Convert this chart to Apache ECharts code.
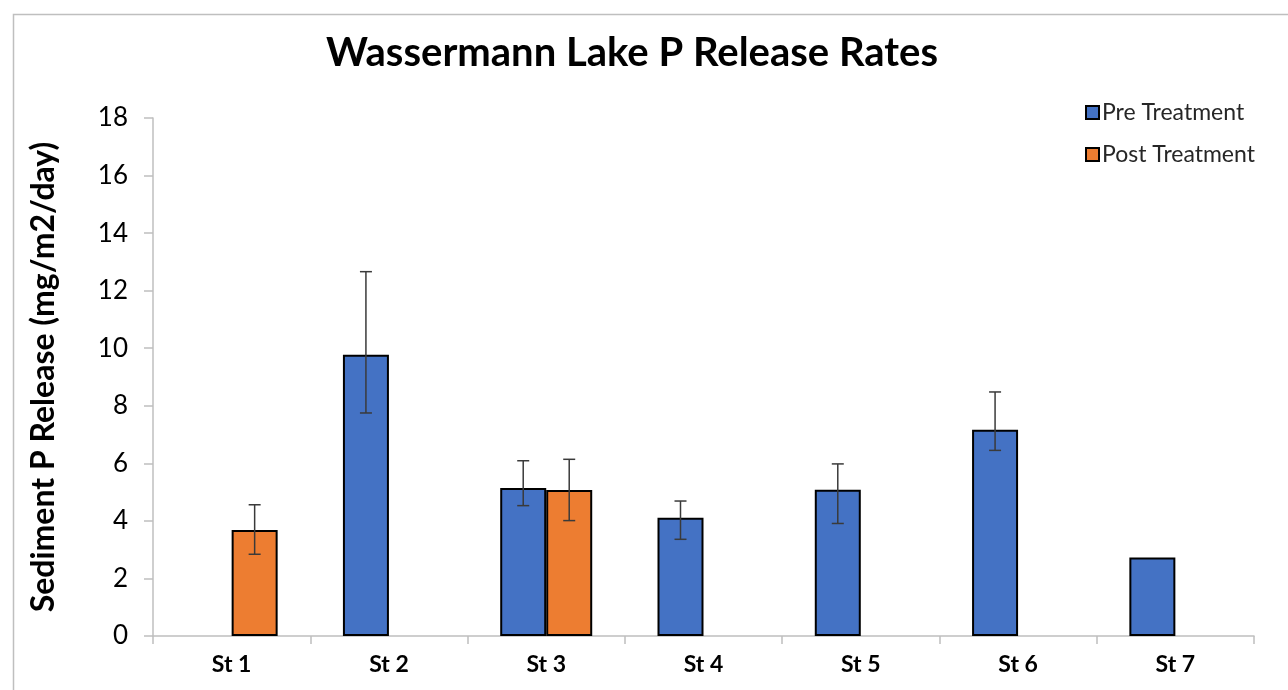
<!DOCTYPE html>
<html>
<head>
<meta charset="utf-8">
<script src="https://cdn.jsdelivr.net/npm/echarts@6/dist/echarts.min.js"></script>
<style>
html,body{margin:0;padding:0;background:#fff;}
#main{width:1288px;height:690px;}
</style>
</head>
<body>
<div id="main"></div>
<script>
var categories = ['St 1', 'St 2', 'St 3', 'St 4', 'St 5', 'St 6', 'St 7'];
var preValues  = [null, 9.77, 5.14, 4.11, 5.08, 7.17, 2.73];
var preHigh    = [null, 12.66, 6.09, 4.69, 5.98, 8.48, null];
var preLow     = [null, 7.75, 4.53, 3.36, 3.91, 6.45, null];
var postValues = [3.68, null, 5.07, null, null, null, null];
var postHigh   = [4.56, null, 6.14, null, null, null, null];
var postLow    = [2.84, null, 4.01, null, null, null, null];
var yTicks = [0, 2, 4, 6, 8, 10, 12, 14, 16, 18];

var FONT = 'Lato, "Open Sans", sans-serif';
var BAR_W = 46;

function errData(high, low) {
  var out = [];
  for (var i = 0; i < categories.length; i++) {
    if (high[i] != null && low[i] != null) out.push([i, low[i], high[i]]);
  }
  return out;
}

function errRender(offset) {
  return function (params, api) {
    var i = api.value(0);
    var lo = api.coord([i, api.value(1)]);
    var hi = api.coord([i, api.value(2)]);
    var x = lo[0] + offset;
    var cap = 6;
    var style = { stroke: '#3a3a3a', lineWidth: 1.5 };
    return {
      type: 'group',
      children: [
        { type: 'line', shape: { x1: x, y1: hi[1], x2: x, y2: lo[1] }, style: style },
        { type: 'line', shape: { x1: x - cap, y1: hi[1], x2: x + cap, y2: hi[1] }, style: style },
        { type: 'line', shape: { x1: x - cap, y1: lo[1], x2: x + cap, y2: lo[1] }, style: style }
      ]
    };
  };
}

var chart = echarts.init(document.getElementById('main'), null, { renderer: 'canvas' });
chart.setOption({
  animation: false,
  backgroundColor: '#ffffff',
  graphic: [{
    type: 'rect', left: 11, top: 12, z: -10,
    shape: { width: 1300, height: 700 },
    style: { fill: 'none', stroke: '#bfbfbf', lineWidth: 1.5 }
  }],
  title: {
    text: 'Wassermann Lake P Release Rates',
    left: 627, top: 28, textAlign: 'center',
    textStyle: { fontFamily: FONT, fontWeight: 'bold', fontSize: 40, color: '#000' }
  },
  legend: {
    orient: 'vertical', left: 1080, top: 96, itemGap: 19,
    itemWidth: 13, itemHeight: 13, icon: 'rect',
    textStyle: { fontFamily: FONT, fontSize: 23, color: '#262626', padding: [0, 0, 0, -2] },
    data: ['Pre Treatment', 'Post Treatment']
  },
  grid: { left: 153, right: 34, top: 118, bottom: 54, containLabel: false },
  xAxis: {
    type: 'category', data: categories,
    axisLine: { lineStyle: { color: '#bfbfbf', width: 1.5 } },
    axisTick: { show: true, length: 8, lineStyle: { color: '#bfbfbf', width: 1.5 } },
    axisLabel: { fontFamily: FONT, fontWeight: 'bold', fontSize: 23, color: '#000', margin: 17 }
  },
  yAxis: {
    type: 'value', min: 0, max: 18, interval: 2,
    name: 'Sediment P Release (mg/m2/day)', nameLocation: 'middle', nameGap: 93,
    nameTextStyle: { fontFamily: FONT, fontWeight: 'bold', fontSize: 32, color: '#000' },
    axisLine: { show: true, lineStyle: { color: '#bfbfbf', width: 1.5 } },
    axisTick: { show: true, length: 9, lineStyle: { color: '#bfbfbf', width: 1.5 } },
    splitLine: { show: false },
    axisLabel: {
      fontFamily: FONT, fontSize: 26, color: '#000', margin: 25,
      formatter: function (v) { return yTicks.indexOf(v) >= 0 ? String(v) : ''; }
    }
  },
  series: [
    {
      name: 'Pre Treatment', type: 'bar', data: preValues,
      barWidth: BAR_W, barGap: '0%',
      itemStyle: { color: '#4472C4', borderColor: '#000', borderWidth: 2 }
    },
    {
      name: 'Post Treatment', type: 'bar', data: postValues,
      barWidth: BAR_W, barGap: '0%',
      itemStyle: { color: '#ED7D31', borderColor: '#000', borderWidth: 2 }
    },
    {
      type: 'custom', name: 'preErr', data: errData(preHigh, preLow),
      renderItem: errRender(-BAR_W / 2), z: 10, silent: true,
      encode: { x: 0, y: [1, 2] }
    },
    {
      type: 'custom', name: 'postErr', data: errData(postHigh, postLow),
      renderItem: errRender(BAR_W / 2), z: 10, silent: true,
      encode: { x: 0, y: [1, 2] }
    }
  ]
});
</script>
</body>
</html>
